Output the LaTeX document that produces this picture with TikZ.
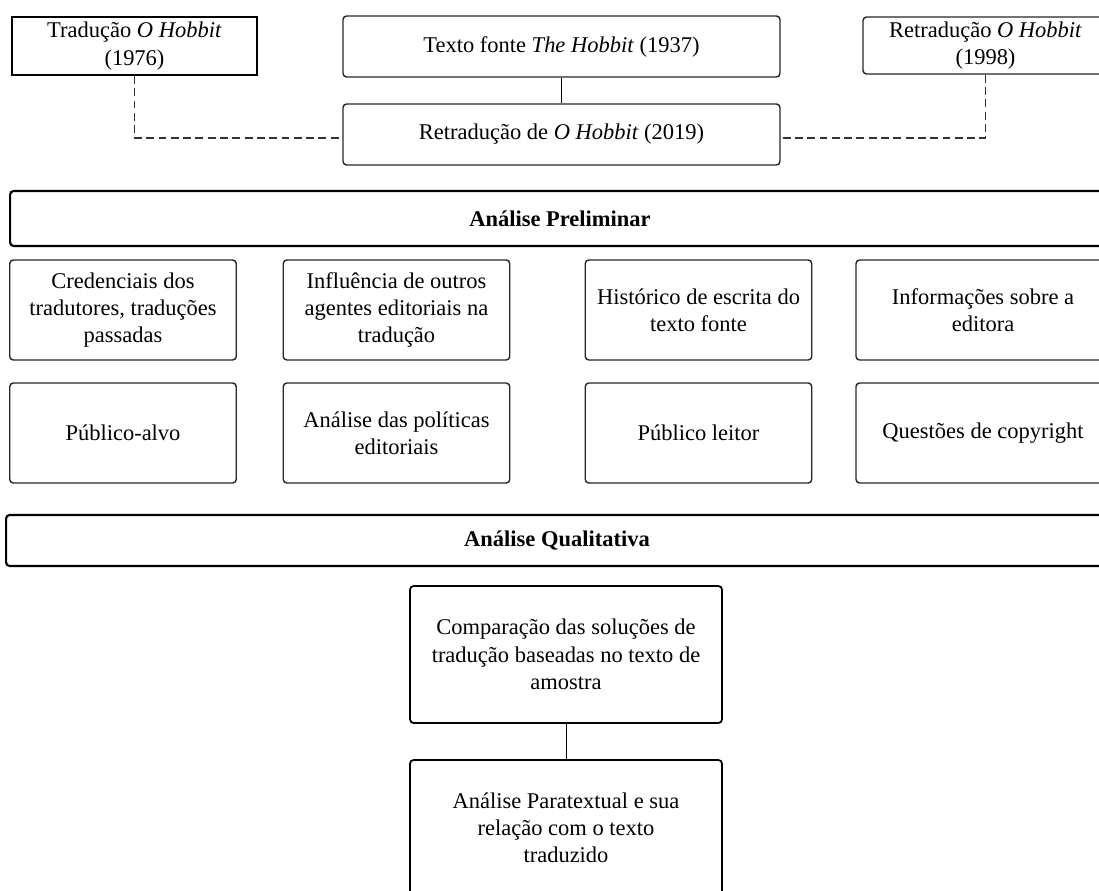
\documentclass[tikz,border=0pt]{standalone}
\usepackage{fontspec}
\setmainfont{Liberation Serif}
\usetikzlibrary{positioning}

\begin{document}
\begin{tikzpicture}[x=0.02cm, y=-0.02cm, align=center,
    caixa/.style={draw=black!85, line width=0.8pt, rounded corners=2pt, inner sep=0pt, font=\fontsize{12.8}{15.5}\selectfont},
    faixa/.style={draw=black, line width=1.2pt, rounded corners=2pt, inner sep=0pt, font=\fontsize{12.8}{15.5}\selectfont\bfseries},
    tracejado/.style={draw=black!80, line width=0.8pt, dash pattern=on 4.5pt off 2.5pt}]
      \useasboundingbox (0,0) rectangle (1099,890);
      \clip (0,0) rectangle (1099,890);
      %
      \node[caixa, draw=black, line width=1.1pt, rounded corners=0pt, minimum width=4.9cm, minimum height=1.16cm] (trad76) at (134.5,46) {Tradução \textit{O Hobbit}\\(1976)};
      \node[caixa, minimum width=8.74cm, minimum height=1.22cm] (fonte) at (561.5,46.5) {Texto fonte \textit{The Hobbit} (1937)};
      \node[caixa, minimum width=8.74cm, minimum height=1.22cm] (retrad19) at (561.5,134.5) {Retradução de \textit{O Hobbit} (2019)};
      \node[caixa, minimum width=4.9cm, minimum height=1.14cm] (retrad98) at (985.5,45.5) {Retradução \textit{O Hobbit}\\(1998)};
      %
      \draw (fonte.south) -- (retrad19.north);
      \draw[tracejado] (trad76.south) |- ([yshift=-2pt]retrad19.west);
      \draw[tracejado] (retrad98.south) |- ([yshift=-2pt]retrad19.east);
      %
      \node[faixa, minimum width=22cm, minimum height=1.1cm] (prelim) at (560,218.5) {Análise Preliminar};
      %
      \node[caixa, minimum width=4.53cm, minimum height=2cm] (cred) at (123,310) {Credenciais dos\\tradutores, traduções\\passadas};
      \node[caixa, minimum width=4.53cm, minimum height=2cm] (infl) at (396.5,310) {Influência de outros\\agentes editoriais na\\tradução};
      \node[caixa, minimum width=4.53cm, minimum height=2cm] (hist) at (698.5,310) {Histórico de escrita do\\texto fonte};
      \node[caixa, minimum width=5.08cm, minimum height=2cm] (editora) at (983,310) {Informações sobre a\\editora};
      %
      \node[caixa, minimum width=4.53cm, minimum height=2cm] (alvo) at (123,433) {Público-alvo};
      \node[caixa, minimum width=4.53cm, minimum height=2cm] (politicas) at (396.5,433) {Análise das políticas\\editoriais};
      \node[caixa, minimum width=4.53cm, minimum height=2cm] (leitor) at (698.5,433) {Público leitor};
      \node[caixa, minimum width=5.08cm, minimum height=2cm] (copyright) at (983,433) {Questões de copyright};
      %
      \node[faixa, minimum width=22.04cm, minimum height=1.02cm] (qualit) at (557,540.5) {Análise Qualitativa};
      %
      \node[caixa, draw=black, line width=1pt, minimum width=6.24cm, minimum height=2.74cm] (compar) at (566,654.5) {Comparação das soluções de\\tradução baseadas no texto de\\amostra};
      \node[caixa, draw=black, line width=1pt, minimum width=6.24cm, minimum height=2.72cm] (paratexto) at (566,828) {Análise Paratextual e sua\\relação com o texto\\traduzido};
      \draw (compar.south) -- (paratexto.north);
    \end{tikzpicture}
\end{document}
